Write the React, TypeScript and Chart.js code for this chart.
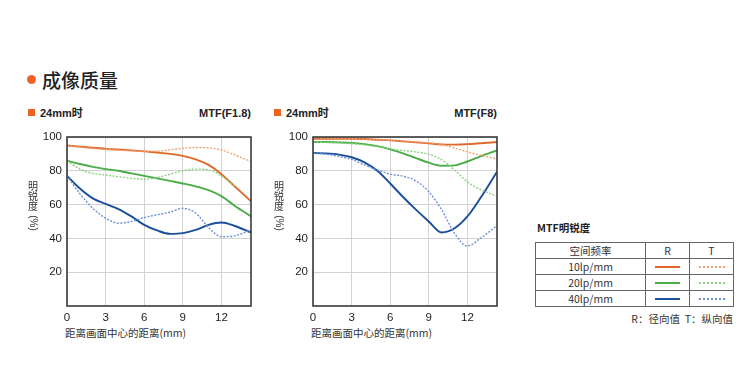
import React, { useEffect, useRef } from "react";
import { Chart, registerables } from "chart.js";

Chart.register(...registerables);

// ---------- data ----------
const xPositions = [0, 1, 2, 3, 4, 5, 6, 7, 8, 9, 10, 11, 12, 13, 14.3];
const xTickValues = [0, 3, 6, 9, 12];
const yTickValues = [20, 40, 60, 80, 100];

// MTF(F1.8)
const f18R10 = [95, 94.3, 93.6, 93, 92.6, 92.1, 91.5, 90.8, 90, 88.8, 86.8, 83.5, 78, 71, 62];
const f18T10 = [95, 94, 93.2, 92.6, 92.2, 91.8, 91.5, 91.6, 92.4, 93.3, 93.8, 93.6, 92.3, 89.5, 85.5];
const f18R20 = [86, 84, 82.3, 81, 80, 78.5, 77, 75.5, 74, 72.5, 70.8, 68.5, 65, 59.5, 53];
const f18T20 = [86, 81, 78.5, 77.5, 76.5, 75.5, 75, 76, 78, 80, 81, 80.5, 77, 71, null];
const f18R40 = [77, 69.5, 63.7, 60.4, 57.3, 53, 48, 44.7, 42.7, 43.1, 45, 48, 49.4, 47.5, 43.5];
const f18T40 = [77, 66.5, 57.8, 52, 49, 50, 52.3, 54, 55.5, 57.8, 55, 46.5, 41, 41.5, 45];

// MTF(F8)
const f8R10 = [99, 99, 99, 99, 98.8, 98.4, 98, 97.4, 96.8, 96.2, 95.6, 95.5, 95.8, 96.3, 97];
const f8T10 = [99.5, 99.4, 99.2, 99, 98.8, 98.4, 98, 97.6, 97.1, 96.5, 95.5, 93.5, 91.2, 89.2, 87];
const f8R20 = [97, 97, 96.8, 96.5, 95.8, 94.6, 92.7, 90.3, 87.5, 84.8, 83, 83.2, 85.5, 88.5, 92];
const f8T20 = [97, 96.8, 96.5, 96, 95.3, 94.3, 93, 92, 91.2, 89.8, 86.5, 80.5, 73.5, 69, 65];
const f8R40 = [90.5, 90.3, 89.6, 88, 85, 80, 72.5, 64.5, 57, 50, 43.5, 46, 53, 63.7, 79.4];
const f8T40 = [90.3, 89.8, 88.5, 86.7, 83.5, 80.5, 78, 76.8, 74, 67.6, 57, 43, 35.5, 40, 47.5];

const freqLabels = ["10lp/mm", "20lp/mm", "40lp/mm"];
const yTitleChars = ["明", "锐", "度"];
const yTitleUnit = "(%)";

// ---------- styles ----------
const C = {
  r10: "#e0692a",
  t10: "#f1a274",
  r20: "#4aad48",
  t20: "#8dd27f",
  r40: "#1c4f9b",
  t40: "#6d92d4",
};
const LATIN = '"Liberation Sans", Arial, "Noto Sans CJK SC", sans-serif';
const CJK = '"Noto Sans CJK SC", "Liberation Sans", sans-serif';

type Series = { label: string; values: (number | null)[]; color: string; dashed: boolean };

const f18Series: Series[] = [
  { label: "T20", values: f18T20, color: C.t20, dashed: true },
  { label: "T10", values: f18T10, color: C.t10, dashed: true },
  { label: "T40", values: f18T40, color: C.t40, dashed: true },
  { label: "R20", values: f18R20, color: C.r20, dashed: false },
  { label: "R10", values: f18R10, color: C.r10, dashed: false },
  { label: "R40", values: f18R40, color: C.r40, dashed: false },
];
const f8Series: Series[] = [
  { label: "T10", values: f8T10, color: C.t10, dashed: true },
  { label: "T20", values: f8T20, color: C.t20, dashed: true },
  { label: "T40", values: f8T40, color: C.t40, dashed: true },
  { label: "R10", values: f8R10, color: C.r10, dashed: false },
  { label: "R20", values: f8R20, color: C.r20, dashed: false },
  { label: "R40", values: f8R40, color: C.r40, dashed: false },
];

const framePlugin = {
  id: "frame",
  afterDatasetsDraw(chart: any) {
    const { ctx, chartArea } = chart;
    const { left, top, right, bottom } = chartArea;
    ctx.save();
    ctx.strokeStyle = "#3a3a3a";
    ctx.lineWidth = 1.6;
    ctx.strokeRect(left, top, right - left, bottom - top);
    ctx.restore();
  },
};

function zeroPad(s: any) {
  s.paddingLeft = 0;
  s.paddingRight = 0;
  s.paddingTop = 0;
  s.paddingBottom = 0;
}

function MtfChart({ series, left }: { series: Series[]; left: number }) {
  const ref = useRef<HTMLCanvasElement>(null);
  useEffect(() => {
    const chart = new Chart(ref.current as HTMLCanvasElement, {
      type: "line",
      data: {
        datasets: series.map((s) => ({
          label: s.label,
          data: xPositions
            .map((x, i) => ({ x, y: s.values[i] }))
            .filter((p) => p.y !== null) as any,
          borderColor: s.color,
          borderWidth: s.dashed ? 1.4 : 1.9,
          borderDash: s.dashed ? [2, 1.5] : [],
          pointRadius: 0,
          cubicInterpolationMode: "monotone",
          fill: false,
        })),
      },
      options: {
        responsive: false,
        animation: false,
        devicePixelRatio: 1,
        layout: { padding: { top: 12, right: 9, left: 0, bottom: 0 } },
        plugins: { legend: { display: false }, tooltip: { enabled: false } },
        scales: {
          x: {
            type: "linear",
            min: 0,
            max: 14.3,
            afterBuildTicks: (s: any) => {
              s.ticks = xTickValues.map((v) => ({ value: v }));
            },
            afterFit: (s: any) => {
              s.height = 19;
              zeroPad(s);
            },
            grid: { color: "#d2d2d2", lineWidth: 1, drawTicks: false },
            border: { display: false },
            ticks: {
              padding: 5,
              color: "#1e1e1e",
              font: { size: 11.5, family: LATIN },
              maxRotation: 0,
              autoSkip: false,
            },
          },
          y: {
            type: "linear",
            min: 0,
            max: 100,
            afterBuildTicks: (s: any) => {
              s.ticks = yTickValues.map((v) => ({ value: v }));
            },
            afterFit: (s: any) => {
              s.width = 47;
              zeroPad(s);
            },
            grid: { color: "#d2d2d2", lineWidth: 1, drawTicks: false },
            border: { display: false },
            ticks: {
              padding: 5,
              color: "#1e1e1e",
              font: { size: 11.5, family: LATIN },
            },
          },
        },
      } as any,
      plugins: [framePlugin],
    });
    return () => chart.destroy();
  }, []);
  return (
    <canvas
      ref={ref}
      width={240}
      height={200}
      style={{ position: "absolute", left, top: 125, width: 240, height: 200 }}
    />
  );
}

function YTitle({ left }: { left: number }) {
  return (
    <>
      {yTitleChars.map((ch, i) => (
        <div
          key={ch}
          style={{
            position: "absolute",
            left,
            top: 181 + i * 10,
            width: 10,
            textAlign: "center",
            font: `10px ${CJK}`,
            lineHeight: "10px",
            color: "#333",
          }}
        >
          {ch}
        </div>
      ))}
      <div
        style={{
          position: "absolute",
          left: left - 6,
          top: 211,
          width: 22,
          height: 12,
          textAlign: "center",
          font: `10px ${LATIN}`,
          lineHeight: "12px",
          color: "#333",
          transformOrigin: "11px 6px",
          transform: "translateY(6px) rotate(90deg)",
          whiteSpace: "nowrap",
        }}
      >
        {yTitleUnit}
      </div>
    </>
  );
}

function Panel({ offset, mtf, series }: { offset: number; mtf: string; series: Series[] }) {
  return (
    <>
      <div
        style={{
          position: "absolute",
          left: 28 + offset,
          top: 109,
          width: 7,
          height: 7,
          background: "#ef6322",
        }}
      />
      <div
        style={{
          position: "absolute",
          left: 40 + offset,
          top: 106,
          font: `bold 11px ${LATIN}`,
          lineHeight: "14px",
          color: "#222",
        }}
      >
        24mm时
      </div>
      <div
        style={{
          position: "absolute",
          left: offset + 140,
          width: 111,
          textAlign: "right",
          top: 106,
          font: `bold 11px ${LATIN}`,
          lineHeight: "14px",
          color: "#222",
        }}
      >
        {mtf}
      </div>
      <MtfChart series={series} left={20 + offset} />
      <YTitle left={28 + offset} />
      <div
        style={{
          position: "absolute",
          left: 65 + offset,
          top: 326,
          font: `10.5px ${CJK}`,
          lineHeight: "14px",
          color: "#333",
          whiteSpace: "nowrap",
        }}
      >
        距离画面中心的距离(mm)
      </div>
    </>
  );
}

const tableRows = [
  { label: freqLabels[0], r: C.r10, t: C.t10 },
  { label: freqLabels[1], r: C.r20, t: C.t20 },
  { label: freqLabels[2], r: C.r40, t: C.t40 },
];

function LegendTable() {
  const cell: React.CSSProperties = {
    border: "1px solid #666",
    padding: 0,
    height: 15,
    textAlign: "center",
    verticalAlign: "middle",
    font: `10.5px ${CJK}`,
    color: "#333",
    lineHeight: "15px",
  };
  return (
    <>
      <div
        style={{
          position: "absolute",
          left: 537,
          top: 221,
          font: `bold 10.5px ${CJK}`,
          lineHeight: "14px",
          color: "#222",
        }}
      >
        MTF明锐度
      </div>
      <table
        style={{
          position: "absolute",
          left: 535,
          top: 242,
          width: 199,
          borderCollapse: "collapse",
          tableLayout: "fixed",
        }}
      >
        <colgroup>
          <col style={{ width: 110 }} />
          <col style={{ width: 44 }} />
          <col style={{ width: 44 }} />
        </colgroup>
        <tbody>
          <tr>
            <td style={cell}>空间频率</td>
            <td style={cell}>R</td>
            <td style={cell}>T</td>
          </tr>
          {tableRows.map((row) => (
            <tr key={row.label}>
              <td style={cell}>{row.label}</td>
              <td style={cell}>
                <div style={{ width: 25, margin: "0 auto", borderTop: `2px solid ${row.r}` }} />
              </td>
              <td style={cell}>
                <div style={{ width: 26, margin: "0 auto", borderTop: `2px dotted ${row.t}` }} />
              </td>
            </tr>
          ))}
        </tbody>
      </table>
      <div
        style={{
          position: "absolute",
          left: 600,
          width: 133,
          textAlign: "right",
          top: 312,
          font: `10.5px ${CJK}`,
          lineHeight: "14px",
          color: "#333",
          whiteSpace: "nowrap",
        }}
      >
        R：径向值&nbsp;&nbsp;T：纵向值
      </div>
    </>
  );
}

export default function App() {
  return (
    <div
      style={{
        position: "absolute",
        left: 0,
        top: 0,
        width: 750,
        height: 373,
        background: "#fff",
        overflow: "hidden",
      }}
    >
      <div
        style={{
          position: "absolute",
          left: 27,
          top: 75,
          width: 9,
          height: 9,
          borderRadius: "50%",
          background: "#ef6322",
        }}
      />
      <div
        style={{
          position: "absolute",
          left: 42,
          top: 68,
          font: `500 19px ${CJK}`,
          lineHeight: "24px",
          color: "#222",
        }}
      >
        成像质量
      </div>
      <Panel offset={0} mtf="MTF(F1.8)" series={f18Series} />
      <Panel offset={246} mtf="MTF(F8)" series={f8Series} />
      <LegendTable />
    </div>
  );
}
